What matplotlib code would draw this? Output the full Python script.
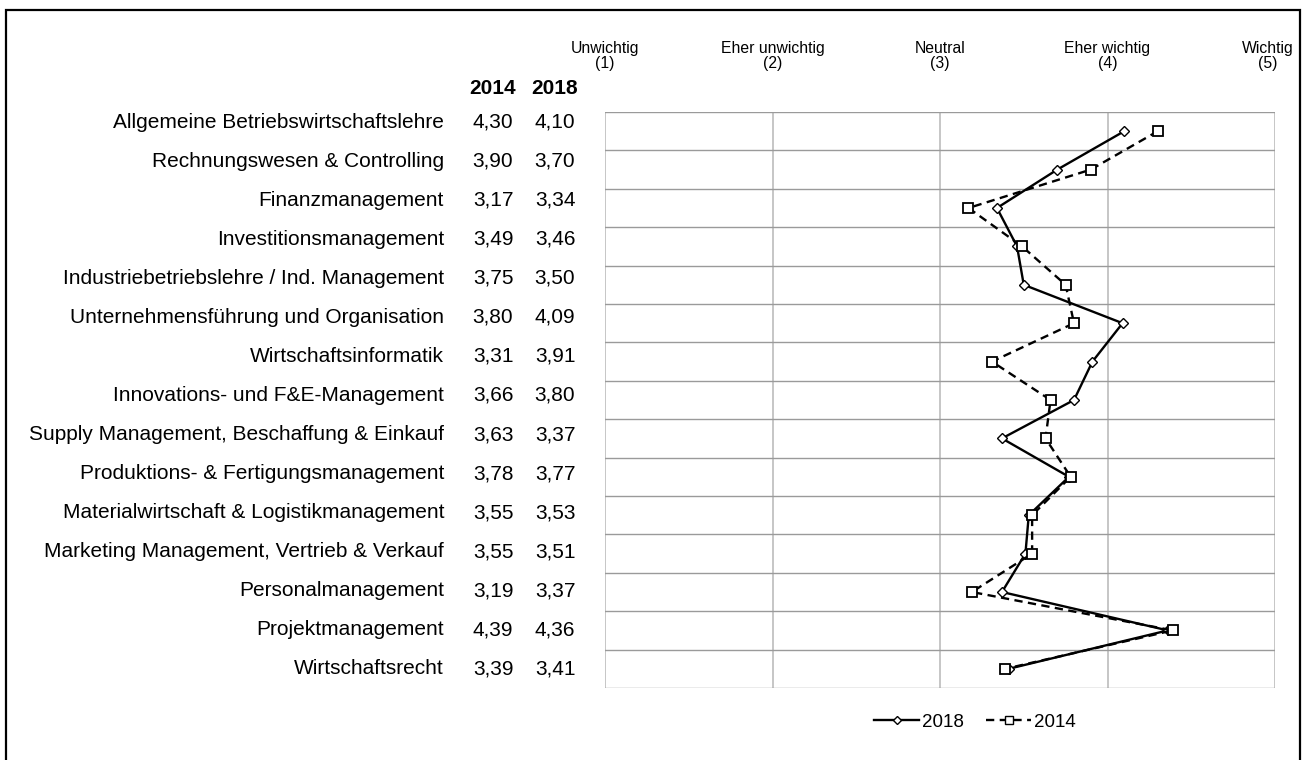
import matplotlib.pyplot as plt
from matplotlib.lines import Line2D
from matplotlib.patches import Rectangle
from matplotlib.transforms import offset_copy

plt.rcParams['font.family'] = ['Liberation Sans', 'DejaVu Sans']

categories = ['Allgemeine Betriebswirtschaftslehre', 'Rechnungswesen & Controlling',
              'Finanzmanagement', 'Investitionsmanagement',
              'Industriebetriebslehre / Ind. Management', 'Unternehmensführung und Organisation',
              'Wirtschaftsinformatik', 'Innovations- und F&E-Management',
              'Supply Management, Beschaffung & Einkauf', 'Produktions- & Fertigungsmanagement',
              'Materialwirtschaft & Logistikmanagement', 'Marketing Management, Vertrieb & Verkauf',
              'Personalmanagement', 'Projektmanagement', 'Wirtschaftsrecht']
vals_2014 = [4.30, 3.90, 3.17, 3.49, 3.75, 3.80, 3.31, 3.66, 3.63, 3.78, 3.55, 3.55, 3.19, 4.39, 3.39]
vals_2018 = [4.10, 3.70, 3.34, 3.46, 3.50, 4.09, 3.91, 3.80, 3.37, 3.77, 3.53, 3.51, 3.37, 4.36, 3.41]
scale_labels = ['Unwichtig\n(1)', 'Eher unwichtig\n(2)', 'Neutral\n(3)', 'Eher wichtig\n(4)', 'Wichtig\n(5)']
scale_vals = [1, 2, 3, 4, 5]

W, H = 1302, 760
fig = plt.figure(figsize=(W / 100, H / 100), dpi=100)

# outer frame (bottom edge runs off the picture)
fig.patches.append(Rectangle((6 / W, -0.05), (1300 - 6) / W, 1 - 10 / H + 0.05,
                             transform=fig.transFigure, fill=False, ec='black', lw=1.6))

ax = fig.add_axes([605 / W, 1 - 688 / H, (1275 - 605) / W, (688 - 112) / H])
n = len(categories)
ypos = [i + 0.5 for i in range(n)]

ax.set_xlim(1, 5)
ax.set_ylim(n, 0)
for v in scale_vals:
    ax.axvline(v, color='#bcbcbc', lw=1.2, zorder=0)
for i in range(n + 1):
    ax.axhline(i, color='#9a9a9a', lw=1.0, zorder=0)
for s in ax.spines.values():
    s.set_visible(False)
ax.set_xticks([])
ax.set_yticks([])

dash = (0, (3.5, 2.3))
ax.plot(vals_2018, ypos, color='black', lw=1.7, marker='D', ms=5,
        mfc='white', mec='black', mew=1.0, zorder=3)
ax.plot(vals_2014, ypos, color='black', lw=1.7, ls=dash, marker='s', ms=7.5,
        mfc='white', mec='black', mew=1.3, zorder=3)

# scale labels above the plot (last one pulled in a bit so it stays inside the frame)
for v, lab in zip(scale_vals, scale_labels):
    dx = -7 if v == scale_vals[-1] else 0
    tr = offset_copy(ax.transData, fig=fig, x=dx, y=0, units='dots')
    ax.text(v, -1.08, lab, ha='center', va='bottom', fontsize=11.3, linespacing=1.0,
            transform=tr)

# table on the left
fs = 15
fig.text(493 / W, 1 - 89 / H, '2014', ha='center', va='center', fontsize=fs, fontweight='bold')
fig.text(555 / W, 1 - 89 / H, '2018', ha='center', va='center', fontsize=fs, fontweight='bold')
for i, cat in enumerate(categories):
    y = 1 - (122 + i * 39.07) / H
    fig.text(444 / W, y, cat, ha='right', va='center', fontsize=fs)
    fig.text(493 / W, y, f'{vals_2014[i]:.2f}'.replace('.', ','), ha='center', va='center', fontsize=fs)
    fig.text(555 / W, y, f'{vals_2018[i]:.2f}'.replace('.', ','), ha='center', va='center', fontsize=fs)

handles = [Line2D([], [], color='black', lw=1.7, marker='D', ms=4, mfc='white', mec='black'),
           Line2D([], [], color='black', lw=1.7, ls=dash, marker='s', ms=6, mfc='white', mec='black')]
fig.legend(handles, ['2018', '2014'], loc='center', bbox_to_anchor=(975 / W, 1 - 722 / H),
           ncol=2, frameon=False, fontsize=13.5, handlelength=2.4, handletextpad=0.15,
           columnspacing=1.2)

fig.savefig('out.png', dpi=100)
